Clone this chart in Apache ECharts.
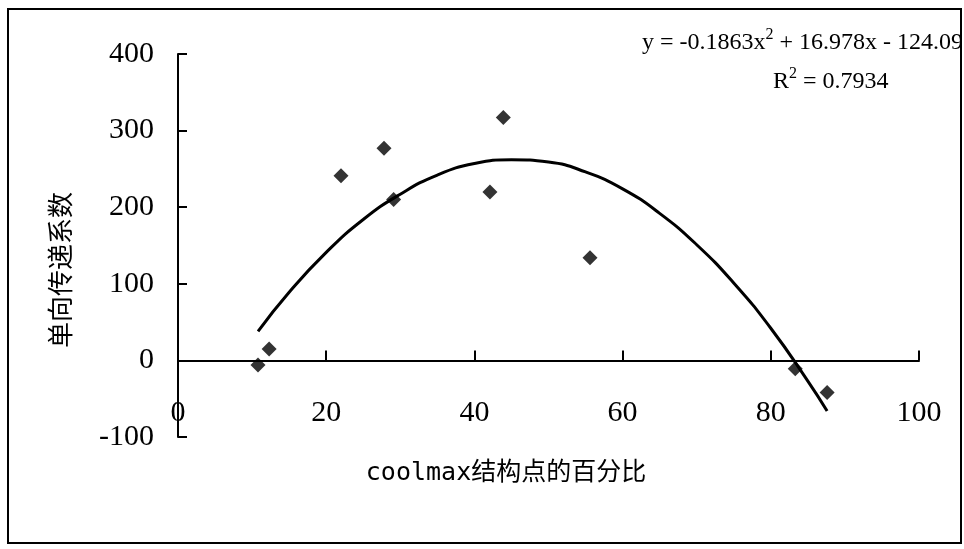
<!DOCTYPE html>
<html>
<head>
<meta charset="utf-8">
<script src="https://cdn.jsdelivr.net/npm/echarts@6/dist/echarts.min.js"></script>
<style>
html,body{margin:0;padding:0;background:#fff;}
#chart{width:964px;height:549px;}
</style>
</head>
<body>
<div id="chart"></div>
<script>
// measured points (coolmax %, coefficient)
var pointX = [10.8, 12.3, 22.0, 27.8, 29.1, 42.1, 43.9, 55.6, 83.3, 87.6];
var pointY = [-6, 15, 241, 277, 210, 220, 317, 134, -11, -42];
// trend curve
var curveX = [10.8, 15, 20, 25, 30, 35, 40, 45, 50, 55, 60, 65, 70, 75, 80, 85, 87.6];
var curveY = [38, 89, 141, 184, 217, 242, 257, 262, 259, 246, 224, 192, 151, 101, 42, -27, -66];
var yAxisName = '单向传递系数';
var xAxisName = 'coolmax结构点的百分比';
var eqLine1 = '{n|y = -0.1863x}{s|2}{n| + 16.978x - 124.09}';
var eqLine2 = '{n|R}{s|2}{n| = 0.7934}';

var chart = echarts.init(document.getElementById('chart'), null, {renderer: 'canvas'});
var serif = '"Liberation Serif", "DejaVu Serif", serif';
var option = {
  backgroundColor: '#fff',
  animation: false,
  grid: {left: 178, right: 45, top: 54, bottom: 112, containLabel: false},
  xAxis: {
    type: 'value', min: 0, max: 100, interval: 20,
    axisLine: {show: true, onZero: true, lineStyle: {color: '#000', width: 2}},
    axisTick: {show: true, inside: true, length: 10, lineStyle: {color: '#000', width: 2}},
    axisLabel: {color: '#000', fontFamily: serif, fontSize: 30, margin: -39},
    splitLine: {show: false}
  },
  yAxis: {
    type: 'value', min: -100, max: 400, interval: 100,
    axisLine: {show: true, lineStyle: {color: '#000', width: 2}},
    axisTick: {show: true, inside: true, length: 9, lineStyle: {color: '#000', width: 2}},
    axisLabel: {color: '#000', fontFamily: serif, fontSize: 30, margin: 24},
    splitLine: {show: false}
  },
  series: [
    {
      type: 'line', smooth: true, showSymbol: false, symbol: 'none',
      lineStyle: {color: '#000', width: 3},
      data: curveX.map(function (x, i) { return [x, curveY[i]]; }),
      z: 2
    },
    {
      type: 'scatter', symbol: 'diamond', symbolSize: 15,
      itemStyle: {color: '#000'},
      data: pointX.map(function (x, i) { return [x, pointY[i]]; }),
      z: 3
    }
  ],
  graphic: [
    {type: 'rect', shape: {x: 8, y: 9, width: 953, height: 534},
     style: {fill: 'none', stroke: '#000', lineWidth: 2}, silent: true},
    {type: 'text', x: 60, y: 270, rotation: Math.PI / 2,
     style: {text: yAxisName, fill: '#000', font: '26px "Noto Sans CJK SC", sans-serif',
             align: 'center', verticalAlign: 'middle'}},
    {type: 'text', x: 506, y: 473,
     style: {text: xAxisName, fill: '#000', font: '25px "DejaVu Sans Mono", "Noto Sans CJK SC", sans-serif',
             align: 'center', verticalAlign: 'middle'}},
    {type: 'text', x: 963, y: 43,
     style: {text: eqLine1, align: 'right', verticalAlign: 'middle',
             rich: {n: {fontFamily: serif, fontSize: 24, fill: '#000', color: '#000'},
                    s: {fontFamily: serif, fontSize: 16, fill: '#000', color: '#000', verticalAlign: 'bottom', padding: [0, 0, 16, 0]}}}},
    {type: 'text', x: 773, y: 82,
     style: {text: eqLine2, align: 'left', verticalAlign: 'middle',
             rich: {n: {fontFamily: serif, fontSize: 24, fill: '#000', color: '#000'},
                    s: {fontFamily: serif, fontSize: 16, fill: '#000', color: '#000', verticalAlign: 'bottom', padding: [0, 0, 16, 0]}}}}
  ]
};
chart.setOption(option);
</script>
</body>
</html>
